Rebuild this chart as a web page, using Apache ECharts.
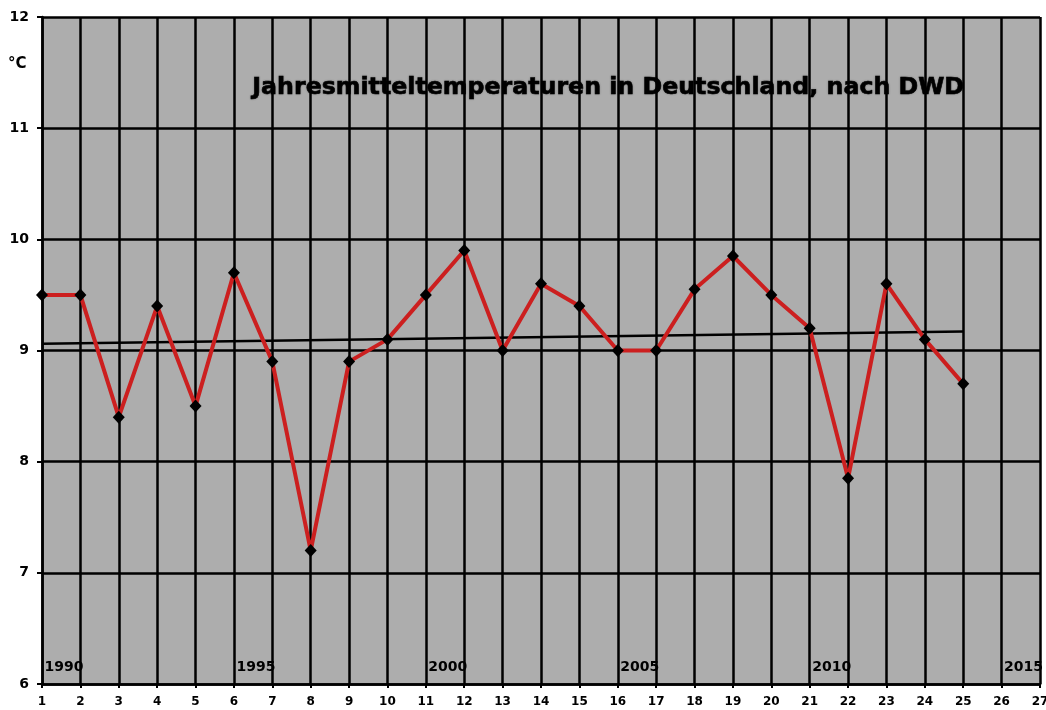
<!DOCTYPE html>
<html>
<head>
<meta charset="utf-8">
<script src="https://cdn.jsdelivr.net/npm/echarts@6/dist/echarts.min.js"></script>
<style>
  html, body { margin: 0; padding: 0; background: #fff; }
  #main { width: 1046px; height: 710px; }
</style>
</head>
<body>
<div id="main"></div>
<script>
// Jahresmitteltemperaturen (Index 1 = 1990)
var xIndex = [1, 2, 3, 4, 5, 6, 7, 8, 9, 10, 11, 12, 13, 14, 15, 16, 17, 18, 19, 20, 21, 22, 23, 24, 25];
var temps = [9.5, 9.5, 8.4, 9.4, 8.5, 9.7, 8.9, 7.2, 8.9, 9.1, 9.5, 9.9, 9.0, 9.6, 9.4, 9.0, 9.0, 9.55, 9.85, 9.5, 9.2, 7.85, 9.6, 9.1, 8.7];
var trendX = [1, 25];
var trendY = [9.06, 9.17];
var yearPos = [1, 6, 11, 16, 21, 26];
var yearLabels = ['1990', '1995', '2000', '2005', '2010', '2015'];

var myChart = echarts.init(document.getElementById('main'));

var labelFont = {
    color: '#000',
    fontFamily: 'DejaVu Sans',
    fontWeight: 'bold',
    fontSize: 12
};

var option = {
    animation: false,
    backgroundColor: '#fff',
    grid: {
        left: 42,
        right: 6,
        top: 17,
        bottom: 26,
        show: true,
        backgroundColor: '#adadad',
        borderWidth: 0,
        containLabel: false,
        outerBoundsMode: 'none'
    },
    graphic: [
        {
            type: 'text',
            left: 8,
            top: 57,
            style: { text: '°C', fill: '#000', font: 'bold 15px "DejaVu Sans"' }
        },
        {
            type: 'text',
            left: 252,
            top: 76,
            z: 10,
            style: {
                text: 'Jahresmitteltemperaturen in Deutschland, nach DWD',
                fill: '#000',
                font: 'bold 23.7px "DejaVu Sans"',
                stroke: '#000',
                lineWidth: 0.6,
                textShadowColor: 'rgba(0,0,0,0.25)',
                textShadowBlur: 2
            }
        }
    ],
    xAxis: {
        type: 'value',
        min: 1,
        max: 27,
        interval: 1,
        axisLine: { show: true, lineStyle: { color: '#000', width: 2.5 } },
        axisTick: { show: true, length: 4, lineStyle: { color: '#000', width: 2 } },
        axisLabel: Object.assign({ margin: 12 }, labelFont),
        splitLine: { show: true, lineStyle: { color: '#000', width: 2.5 } }
    },
    yAxis: {
        type: 'value',
        min: 6,
        max: 12,
        interval: 1,
        axisLine: { show: true, lineStyle: { color: '#000', width: 2.5 } },
        axisTick: { show: true, length: 5, lineStyle: { color: '#000', width: 2 } },
        axisLabel: Object.assign({ margin: 13 }, labelFont, { fontSize: 14 }),
        splitLine: { show: true, lineStyle: { color: '#000', width: 2.5 } }
    },
    series: [
        {
            name: 'Trend',
            type: 'line',
            data: trendX.map(function (x, i) { return [x, trendY[i]]; }),
            symbol: 'none',
            lineStyle: { color: '#000', width: 2.5 },
            z: 3
        },
        {
            name: 'Temperatur',
            type: 'line',
            data: xIndex.map(function (x, i) { return [x, temps[i]]; }),
            symbol: 'diamond',
            symbolSize: [12, 13],
            itemStyle: { color: '#000' },
            lineStyle: { color: '#cc1f1f', width: 4 },
            z: 4
        },
        {
            name: 'Jahre',
            type: 'scatter',
            data: yearPos.map(function (x, i) { return { value: [x, 6.15], name: yearLabels[i] }; }),
            symbolSize: 1,
            itemStyle: { opacity: 0 },
            label: {
                show: true,
                position: 'right',
                distance: 2,
                formatter: '{b}',
                color: '#000',
                opacity: 1,
                fontFamily: 'DejaVu Sans',
                fontWeight: 'bold',
                fontSize: 14
            },
            z: 5
        }
    ]
};

myChart.setOption(option);
</script>
</body>
</html>
